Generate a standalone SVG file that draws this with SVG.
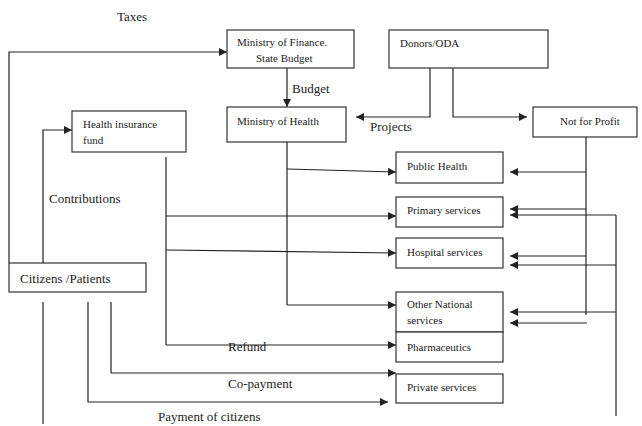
<svg xmlns="http://www.w3.org/2000/svg" width="642" height="426" viewBox="0 0 642 426">
<style>
.box{fill:#fff;stroke:#333;stroke-width:1.2}
.t{font-family:"Liberation Serif",serif;font-size:11px;fill:#222}
.l{font-family:"Liberation Serif",serif;font-size:13px;fill:#222}
.c{fill:none;stroke:#222;stroke-width:1.2}
.a{marker-end:url(#ah)}
</style>
<defs>
<marker id="ah" markerUnits="userSpaceOnUse" markerWidth="9" markerHeight="8" refX="8" refY="4" orient="auto">
<path d="M0,0 L8,4 L0,8 Z" fill="#222"/>
</marker>
</defs>
<rect width="642" height="426" fill="#fff"/>
<g id="connectors">
<path class="c a" d="M9,263 V52 H227"/>
<path class="c a" d="M287,68 V107"/>
<path class="c a" d="M43,263 V130 H72"/>
<path class="c a" d="M430,68 V117 H356"/>
<path class="c a" d="M453,68 V117 H527"/>
<path class="c" d="M287,142 V305"/>
<path class="c a" d="M287,169 L396,172"/>
<path class="c a" d="M287,305 H396"/>
<path class="c" d="M166,157 V345"/>
<path class="c a" d="M166,216 H396"/>
<path class="c a" d="M166,250 L396,253"/>
<path class="c a" d="M166,345 H396"/>
<path class="c a" d="M111,302 V373 H396"/>
<path class="c a" d="M88,302 V402 H388"/>
<path class="c" d="M43,302 V424"/>
<path class="c" d="M586,137 V315"/>
<path class="c a" d="M586,172 H510"/>
<path class="c a" d="M586,209 H510"/>
<path class="c a" d="M586,256 H510"/>
<path class="c a" d="M587,323 H510"/>
<path class="c" d="M616,215 V416"/>
<path class="c a" d="M616,215 H510"/>
<path class="c a" d="M616,265 H510"/>
<path class="c a" d="M616,312 H510"/>
</g>
<text class="l" x="117" y="21">Taxes</text>
<text class="l" x="292" y="93">Budget</text>
<text class="l" x="370" y="131">Projects</text>
<text class="l" x="49" y="203">Contributions</text>
<text class="l" x="228" y="351">Refund</text>
<text class="l" x="228" y="388">Co-payment</text>
<text class="l" x="158" y="421">Payment of citizens</text>
<g id="mof"><rect class="box" x="227" y="30" width="127" height="38"/><text class="t" x="237" y="46">Ministry of Finance.</text><text class="t" x="256" y="62">State Budget</text></g>
<g id="donors"><rect class="box" x="389" y="30" width="159" height="38"/><text class="t" x="400" y="47">Donors/ODA</text></g>
<g id="moh"><rect class="box" x="227" y="107" width="119" height="35"/><text class="t" x="237" y="125">Ministry of Health</text></g>
<g id="nfp"><rect class="box" x="533" y="107" width="104" height="30"/><text class="t" x="560" y="125">Not for Profit</text></g>
<g id="hif"><rect class="box" x="72" y="111" width="114" height="41"/><text class="t" x="83" y="128">Health insurance</text><text class="t" x="83" y="144">fund</text></g>
<g id="citizens"><rect class="box" x="9" y="263" width="137" height="29"/><text class="l" x="20" y="283">Citizens /Patients</text></g>
<g id="public"><rect class="box" x="396" y="152" width="107" height="31"/><text class="t" x="407" y="170">Public Health</text></g>
<g id="primary"><rect class="box" x="396" y="197" width="107" height="30"/><text class="t" x="407" y="214">Primary services</text></g>
<g id="hospital"><rect class="box" x="396" y="238" width="107" height="30"/><text class="t" x="407" y="256">Hospital services</text></g>
<g id="other"><rect class="box" x="396" y="292" width="107" height="40"/><text class="t" x="407" y="308">Other National</text><text class="t" x="407" y="324">services</text></g>
<g id="pharma"><rect class="box" x="396" y="332" width="107" height="30"/><text class="t" x="407" y="351">Pharmaceutics</text></g>
<g id="private"><rect class="box" x="396" y="374" width="107" height="29"/><text class="t" x="407" y="391">Private services</text></g>
</svg>
